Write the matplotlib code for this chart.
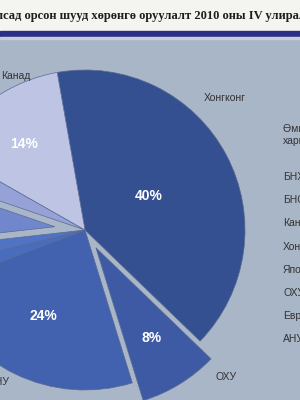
import matplotlib
matplotlib.use("Agg")
import matplotlib.pyplot as plt
import numpy as np

# data -------------------------------------------------------------------------
title = "улсад орсон шууд хөрөнгө оруулалт 2010 оны IV улиралд"
countries = ["Хонгконг", "ОХУ", "АНУ", "Европ", "Япон", "БНСУ", "БНХАУ", "Канад"]
shares = [40, 8, 24, 2, 2, 7, 3, 14]
shown_pct = ["40%", "8%", "24%", "", "", "", "", "14%"]
legend_names = ["Өмнөх улиралтай\nхарьцуулахад", "БНХАУ", "БНСУ", "Канад",
                "Хонгконг", "Япон", "ОХУ", "Европ", "АНУ"]

# style ------------------------------------------------------------------------
colors = ["#345091", "#3e5aa5", "#4262af", "#486cbe", "#5073c3",
          "#7087cd", "#96a2d7", "#bec4e4"]
explode = [0, 0.13, 0, 0, 0, 0.19, 0, 0]   # fraction of radius
pct_dist = [0.45, 0.66, 0.60, 0, 0, 0, 0, 0.66]
bg = "#a8b6c8"

fig = plt.figure(figsize=(3, 4), dpi=100)
ax = fig.add_axes([0, 0, 1, 1])
ax.set_facecolor(bg)

# header bands
ax.axhspan(369, 400, color="#f4f5f0", zorder=0)
ax.axhspan(363, 369, color="#2c2f86", zorder=0)
ax.axhspan(361, 363, color="#c6cedc", zorder=0)
ax.text(-10, 384, title, family="Liberation Serif", weight="bold",
        fontsize=9.0, color="#1e1e1e", ha="left", va="center")

cx, cy, R = 85, 170, 160
wedges, _ = ax.pie(shares, colors=colors, explode=[e * R for e in explode],
                   startangle=100, counterclock=False, radius=R, center=(cx, cy),
                   wedgeprops=dict(edgecolor="#5a6a92", linewidth=0.5))

for w, lab, d, ex in zip(wedges, shown_pct, pct_dist, explode):
    if not lab:
        continue
    ang = np.deg2rad((w.theta1 + w.theta2) / 2)
    r = (d + ex) * R
    ax.text(cx + r * np.cos(ang), cy + r * np.sin(ang), lab, color="white",
            family="Liberation Sans", weight="bold", fontsize=10,
            ha="center", va="center")

# slice names
name_font = dict(family="Liberation Sans", fontsize=7.5, color="#333333")
ax.text(225, 302, "Хонгконг", ha="center", va="center", **name_font)
ax.text(1, 324, "Канад", ha="left", va="center", **name_font)
ax.text(226, 23, "ОХУ", ha="center", va="center", **name_font)
ax.text(10, 18, "АНУ", ha="right", va="center", **name_font)

# table on the right
ax.text(283, 265, legend_names[0], ha="left", va="center",
        linespacing=1.2, **name_font)
for i, name in enumerate(legend_names[1:]):
    ax.text(283, 223 - i * 23.2, name, ha="left", va="center", **name_font)

ax.set_xlim(0, 300)
ax.set_ylim(0, 400)
ax.set_aspect("auto")
ax.axis("off")
fig.patch.set_facecolor(bg)

plt.savefig("out.png", dpi=100)
